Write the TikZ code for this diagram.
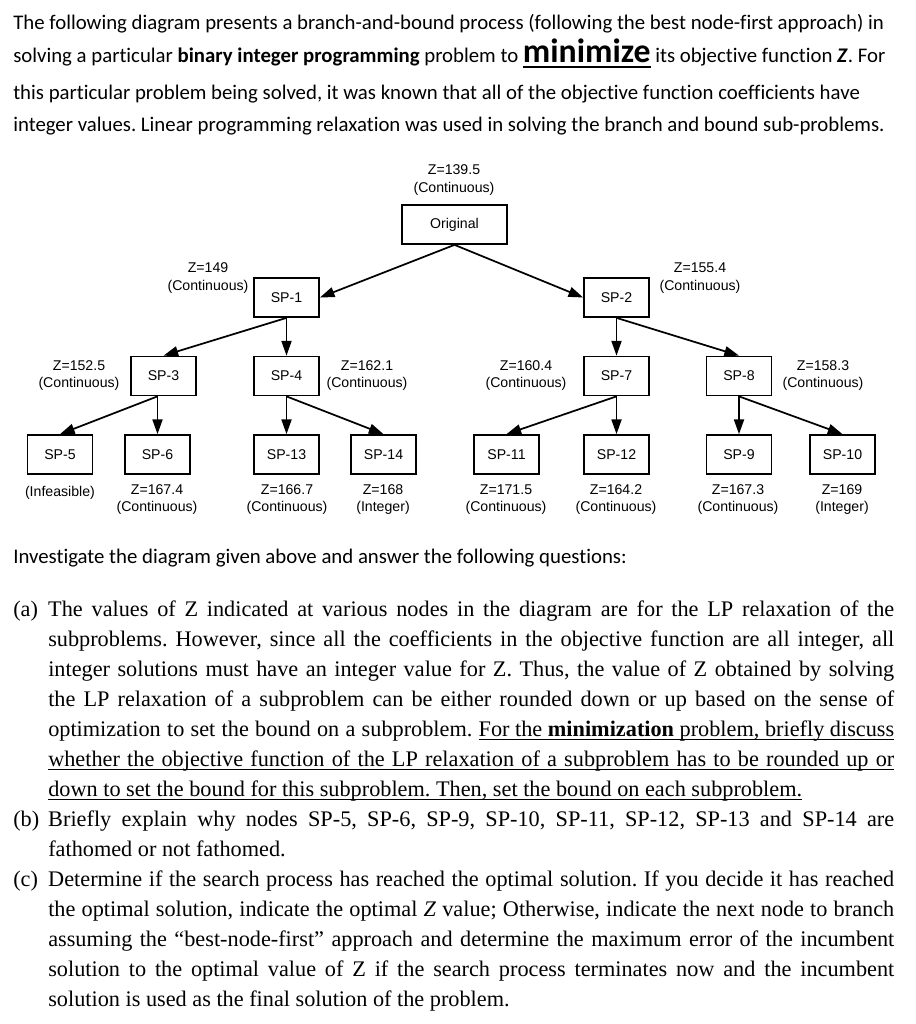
\documentclass[tikz,border=0pt]{standalone}
\usepackage{fontspec}
\setmainfont{Liberation Serif}
\newfontfamily\calibri{Carlito}[Ligatures=NoCommon]
\newfontfamily\arial{Liberation Sans}
\usetikzlibrary{positioning,arrows.meta}

% underlined box: depth, thickness, text
\newcommand\ulbox[3]{\setbox0\hbox{#3}\rlap{\rule[-#1]{\wd0}{#2}}\box0}
% justified line of a question
\newcommand\qjust[1]{\makebox[634.5pt][s]{#1}}

\tikzset{
  spbox/.style={draw, line width=1.3pt, minimum width=48.75pt, minimum height=29.25pt, inner sep=0pt, font=\arial\fontsize{10.6}{13}\selectfont},
  zlabel/.style={align=center, inner sep=0pt, font=\arial\fontsize{10.6}{13.1}\selectfont},
  branch/.style={-{Triangle[length=11pt,width=7.5pt]}, line width=1.3pt},
  textline/.style={anchor=base west, inner sep=0pt, font=\calibri\fontsize{15.6}{18}\selectfont},
  qline/.style={anchor=base west, inner sep=0pt, font=\fontsize{16.7}{19}\selectfont},
}

\begin{document}
\frenchspacing
\begin{tikzpicture}[x=0.75pt,y=-0.75pt,node distance=28.33pt]
\path[fill=white] (0,0) rectangle (915,1024);

% introduction
\node[textline] (intro1) at (13,29.5) {The following diagram presents a branch-and-bound process (following the best node-first approach) in};
\node[textline] (intro2) at (13,63) {solving a particular \textbf{binary integer programming} problem to {\fontsize{25.3}{30}\selectfont\bfseries\ulbox{3.8pt}{1.6pt}{minimize}} its objective function \textbf{\textit{Z}}. For};
\node[textline] (intro3) at (13,99.5) {this particular problem being solved, it was known that all of the objective function coefficients have};
\node[textline] (intro4) at (13,131.5) {integer values. Linear programming relaxation was used in solving the branch and bound sub-problems.};

% tree
\node[spbox, minimum width=78.75pt] (orig) at (454.5,224.5) {Original};
\node[spbox] (sp1) at (286.5,297.5) {SP-1};
\node[spbox] (sp2) at (616.5,297.5) {SP-2};
\node[spbox] (sp3) at (163.5,376) {SP-3};
\node[spbox] (sp4) [below=of sp1] {SP-4};
\node[spbox] (sp7) [below=of sp2] {SP-7};
\node[spbox] (sp8) at (739,376) {SP-8};
\node[spbox] (sp5) at (60,454.5) {SP-5};
\node[spbox] (sp6) at (157.5,454.5) {SP-6};
\node[spbox] (sp13) [below=of sp4] {SP-13};
\node[spbox] (sp14) at (383.5,454.5) {SP-14};
\node[spbox] (sp11) at (506.5,454.5) {SP-11};
\node[spbox] (sp12) [below=of sp7] {SP-12};
\node[spbox] (sp9) [below=of sp8] {SP-9};
\node[spbox] (sp10) at (842.5,454.5) {SP-10};

\node[zlabel] (zorig) at (454,180) {Z=139.5\\(Continuous)};
\node[zlabel] (zsp1) at (208,278) {Z=149\\(Continuous)};
\node[zlabel] (zsp2) at (700,278) {Z=155.4\\(Continuous)};
\node[zlabel] (zsp3) at (79,375.5) {Z=152.5\\(Continuous)};
\node[zlabel] (zsp4) at (367,375.5) {Z=162.1\\(Continuous)};
\node[zlabel] (zsp7) at (526,375.5) {Z=160.4\\(Continuous)};
\node[zlabel] (zsp8) at (823,375.5) {Z=158.3\\(Continuous)};
\node[zlabel] (zsp5) at (60,493) {(Infeasible)};
\node[zlabel] (zsp6) at (157,499.5) {Z=167.4\\(Continuous)};
\node[zlabel] (zsp13) at (287,499.5) {Z=166.7\\(Continuous)};
\node[zlabel] (zsp14) at (383,499.5) {Z=168\\(Integer)};
\node[zlabel] (zsp11) at (506,499.5) {Z=171.5\\(Continuous)};
\node[zlabel] (zsp12) at (616,499.5) {Z=164.2\\(Continuous)};
\node[zlabel] (zsp9) at (738,499.5) {Z=167.3\\(Continuous)};
\node[zlabel] (zsp10) at (842,499.5) {Z=169\\(Integer)};

\draw[branch] (orig.south) -- (sp1.east);
\draw[branch] (orig.south) -- (sp2.west);
\draw[branch] (sp1.south) -- (sp3.north);
\draw[branch] (sp1) -- (sp4);
\draw[branch] (sp3.south -| sp6) -- (sp5.north);
\draw[branch] (sp3.south -| sp6) -- (sp6.north);
\draw[branch] (sp4) -- (sp13);
\draw[branch] (sp4.south) -- (sp14.north);
\draw[branch] (sp2) -- (sp7);
\draw[branch] (sp2.south) -- (sp8.north);
\draw[branch] (sp7.south) -- (sp11.north);
\draw[branch] (sp7) -- (sp12);
\draw[branch] (sp8) -- (sp9);
\draw[branch] (sp8.south) -- (sp10.north);

% questions
\node[textline] (ask) at (13,563) {Investigate the diagram given above and answer the following questions:};
\node[qline] (qa1) at (13,616.5) {\makebox[26.25pt][l]{(a)}\qjust{The values of Z indicated at various nodes in the diagram are for the LP relaxation of the}};
\node[qline] (qa2) at (48,646.5) {\qjust{subproblems. However, since all the coefficients in the objective function are all integer, all}};
\node[qline] (qa3) at (48,676.5) {\qjust{integer solutions must have an integer value for Z. Thus, the value of Z obtained by solving}};
\node[qline] (qa4) at (48,706.5) {\qjust{the LP relaxation of a subproblem can be either rounded down or up based on the sense of}};
\node[qline] (qa5) at (48,736.5) {\qjust{optimization to set the bound on a subproblem. \ulbox{2.6pt}{0.6pt}{For the \textbf{minimization} problem, briefly discuss}}};
\node[qline] (qa6) at (48,766.5) {\ulbox{2.6pt}{0.6pt}{\qjust{whether the objective function of the LP relaxation of a subproblem has to be rounded up or}}};
\node[qline] (qa7) at (48,796.5) {\ulbox{2.6pt}{0.6pt}{down to set the bound for this subproblem. Then, set the bound on each subproblem.}};
\node[qline] (qb1) at (13,826.5) {\makebox[26.25pt][l]{(b)}\qjust{Briefly explain why nodes SP-5, SP-6, SP-9, SP-10, SP-11, SP-12, SP-13 and SP-14 are}};
\node[qline] (qb2) at (48,856.5) {fathomed or not fathomed.};
\node[qline] (qc1) at (13,886.5) {\makebox[26.25pt][l]{(c)}\qjust{Determine if the search process has reached the optimal solution. If you decide it has reached}};
\node[qline] (qc2) at (48,916.5) {\qjust{the optimal solution, indicate the optimal \textit{Z} value; Otherwise, indicate the next node to branch}};
\node[qline] (qc3) at (48,946.5) {\qjust{assuming the ``best-node-first'' approach and determine the maximum error of the incumbent}};
\node[qline] (qc4) at (48,976.5) {\qjust{solution to the optimal value of Z if the search process terminates now and the incumbent}};
\node[qline] (qc5) at (48,1006.5) {solution is used as the final solution of the problem.};
\end{tikzpicture}
\end{document}
